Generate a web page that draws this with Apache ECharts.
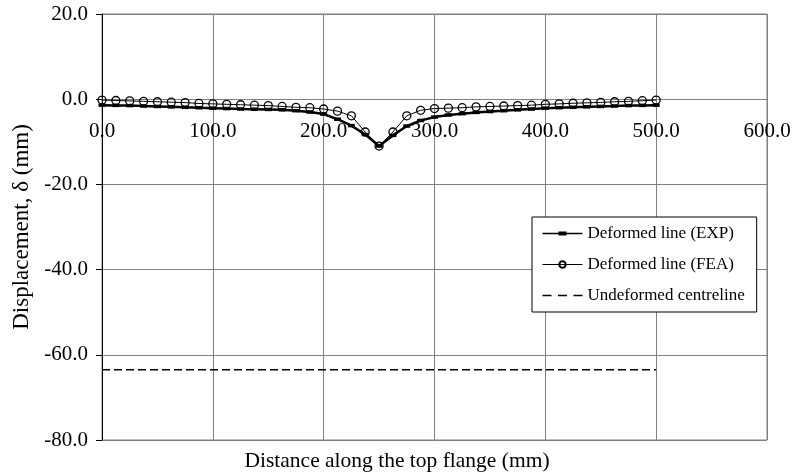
<!DOCTYPE html>
<html>
<head>
<meta charset="utf-8">
<script src="https://cdn.jsdelivr.net/npm/echarts@6/dist/echarts.min.js"></script>
<style>
  html, body { margin: 0; padding: 0; background: #fff; }
  #chart { width: 794px; height: 474px; }
</style>
</head>
<body>
<div id="chart"></div>
<script>
// Stations along the top flange (mm)
const stations = [0, 12.5, 25, 37.5, 50, 62.5, 75, 87.5, 100, 112.5, 125, 137.5, 150, 162.5, 175, 187.5,
  200, 212.5, 225, 237.5, 250, 262.5, 275, 287.5, 300, 312.5, 325, 337.5, 350, 362.5, 375, 387.5,
  400, 412.5, 425, 437.5, 450, 462.5, 475, 487.5, 500];

// Measured deflection (mm)
const expDisp = [-1.4, -1.45, -1.5, -1.6, -1.7, -1.8, -1.9, -2.0, -2.1, -2.2, -2.3, -2.35, -2.4, -2.5, -2.7, -3.0,
  -3.5, -4.7, -6.2, -8.3, -11.0, -8.5, -6.3, -5.0, -4.2, -3.7, -3.4, -3.1, -2.9, -2.7, -2.5, -2.3,
  -2.1, -2.0, -1.9, -1.8, -1.7, -1.6, -1.5, -1.45, -1.4];

// Finite element deflection (mm)
const feaDisp = [-0.2, -0.3, -0.4, -0.5, -0.6, -0.7, -0.8, -1.0, -1.1, -1.2, -1.3, -1.4, -1.5, -1.7, -1.9, -2.0,
  -2.3, -2.8, -3.9, -7.7, -11.0, -7.7, -3.9, -2.6, -2.2, -2.1, -2.0, -1.8, -1.7, -1.6, -1.5, -1.4,
  -1.2, -1.1, -0.95, -0.85, -0.75, -0.6, -0.5, -0.35, -0.2];

// Undeformed centreline end points
const centreX = [0, 500];
const centreY = [-63.5, -63.5];

const seriesNames = ['Deformed line (EXP)', 'Deformed line (FEA)', 'Undeformed centreline'];
const xTitle = 'Distance along the top flange (mm)';
const yTitle = 'Displacement, δ (mm)';

const pair = (xs, ys) => xs.map((x, i) => [x, ys[i]]);

const serif = '"Liberation Serif", "Times New Roman", serif';
const gridGray = '#808080';

// Plot box and y range, used to hang the x axis on the zero line
const gridTop = 14, gridBottom = 34, chartH = 474;
const yMin = -80, yMax = 20;
const plotH = chartH - gridTop - gridBottom;
const zeroShift = -plotH * (0 - yMin) / (yMax - yMin);

// Legend glyphs: line with a bar marker, and a three-dash line
const expIcon = 'path://M0,1.3L40,1.3L40,2.7L0,2.7Z M16,0L24,0L24,4L16,4Z';
const dashIcon = 'path://M0,0L9,0L9,1.6L0,1.6Z M15.5,0L24.5,0L24.5,1.6L15.5,1.6Z M31,0L40,0L40,1.6L31,1.6Z';

const chart = echarts.init(document.getElementById('chart'), null, { renderer: 'canvas' });

chart.setOption({
  animation: false,
  backgroundColor: '#ffffff',
  textStyle: { fontFamily: serif, color: '#000' },
  grid: {
    left: 102, right: 27, top: gridTop, bottom: gridBottom,
    show: true, borderColor: gridGray, borderWidth: 1
  },
  graphic: [{
    type: 'text',
    left: 'center',
    top: 450,
    style: { text: xTitle, font: '21.5px ' + serif, fill: '#000' }
  }],
  legend: {
    orient: 'vertical',
    left: 532, top: 217,
    backgroundColor: '#fff',
    borderColor: '#000',
    borderWidth: 1,
    borderRadius: 0,
    padding: [7, 12, 7, 10],
    itemGap: 12,
    itemWidth: 40,
    itemHeight: 8,
    textStyle: { fontFamily: serif, fontSize: 17, color: '#000', lineHeight: 19 },
    data: [
      { name: seriesNames[0], icon: expIcon },
      { name: seriesNames[1], lineStyle: { width: 1 } },
      { name: seriesNames[2], icon: dashIcon }
    ]
  },
  xAxis: {
    type: 'value',
    min: 0, max: 600, interval: 100,
    offset: zeroShift,
    axisLine: { onZero: false, lineStyle: { color: gridGray, width: 1 } },
    axisTick: { show: false },
    axisLabel: {
      margin: 22,
      fontFamily: serif, fontSize: 21, color: '#000',
      formatter: v => v.toFixed(1)
    },
    splitLine: { show: true, lineStyle: { color: gridGray, width: 1 } }
  },
  yAxis: {
    type: 'value',
    min: yMin, max: yMax, interval: 20,
    name: yTitle,
    nameLocation: 'middle',
    nameGap: 67,
    nameTextStyle: { fontFamily: serif, fontSize: 23, color: '#000' },
    axisLine: { show: true, onZero: false, lineStyle: { color: '#000', width: 1 } },
    axisTick: { show: true, inside: false, length: 6, lineStyle: { color: '#000' } },
    axisLabel: {
      margin: 14,
      fontFamily: serif, fontSize: 21, color: '#000',
      formatter: v => v.toFixed(1)
    },
    splitLine: { show: true, lineStyle: { color: gridGray, width: 1 } }
  },
  series: [
    {
      name: seriesNames[0],
      type: 'line',
      data: pair(stations, expDisp),
      symbol: 'rect',
      symbolSize: [7, 3.5],
      showSymbol: true,
      lineStyle: { color: '#000', width: 2.5 },
      itemStyle: { color: '#000' },
      z: 3
    },
    {
      name: seriesNames[1],
      type: 'line',
      data: pair(stations, feaDisp),
      symbol: 'circle',
      symbolSize: 8,
      showSymbol: true,
      lineStyle: { color: '#000', width: 1 },
      itemStyle: { color: 'rgba(255,255,255,0)', borderColor: '#000', borderWidth: 1.3 },
      z: 4
    },
    {
      name: seriesNames[2],
      type: 'line',
      data: pair(centreX, centreY),
      symbol: 'none',
      lineStyle: { color: '#000', width: 1.6, type: [8, 4] },
      itemStyle: { color: '#000' },
      z: 2
    }
  ]
});
</script>
</body>
</html>
